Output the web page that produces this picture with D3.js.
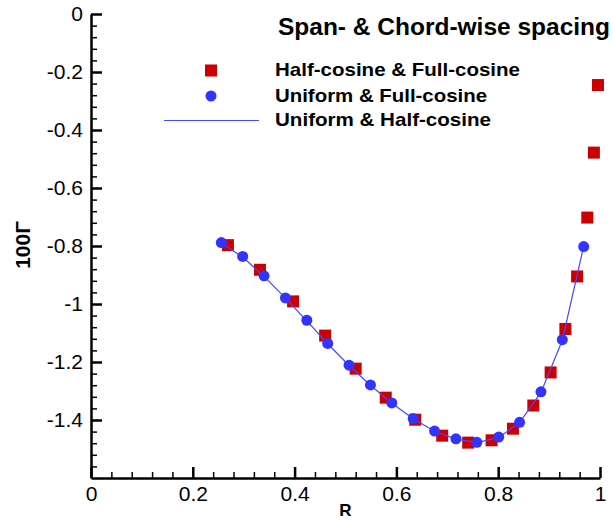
<!DOCTYPE html>
<html>
<head>
<meta charset="utf-8">
<script src="https://cdn.jsdelivr.net/npm/d3@7"></script>
<style>
  body { margin: 0; background: #fff; }
  text { font-family: "Liberation Sans", Arial, sans-serif; fill: #000; }
</style>
</head>
<body>
<div id="chart"></div>
<script>
// Half-cosine & Full-cosine (red squares)
const halfFullR = [0.269, 0.332, 0.397, 0.460, 0.520, 0.579, 0.637, 0.690, 0.741,
  0.787, 0.829, 0.869, 0.903, 0.932, 0.955, 0.975, 0.988, 0.996];
const halfFullG = [-0.797, -0.882, -0.991, -1.109, -1.223, -1.323, -1.399, -1.454, -1.478,
  -1.470, -1.430, -1.350, -1.236, -1.086, -0.905, -0.702, -0.478, -0.245];

// Uniform & Full-cosine (blue circles)
const uniFullR = [0.256, 0.298, 0.340, 0.382, 0.424, 0.465, 0.507, 0.549, 0.591,
  0.633, 0.675, 0.717, 0.758, 0.801, 0.842, 0.884, 0.926, 0.968];
const uniFullG = [-0.788, -0.836, -0.903, -0.979, -1.056, -1.136, -1.211, -1.279, -1.341,
  -1.395, -1.438, -1.465, -1.477, -1.459, -1.408, -1.303, -1.123, -0.802];

// Uniform & Half-cosine (line)
const uniHalfR = [0.256, 0.298, 0.340, 0.382, 0.424, 0.465, 0.507, 0.549, 0.591,
  0.633, 0.675, 0.717, 0.758, 0.801, 0.842, 0.884, 0.926, 0.968];
const uniHalfG = [-0.790, -0.838, -0.905, -0.980, -1.058, -1.137, -1.212, -1.280, -1.342,
  -1.396, -1.439, -1.466, -1.478, -1.460, -1.409, -1.305, -1.125, -0.800];

const xTicks = [0, 0.2, 0.4, 0.6, 0.8, 1];
const yTicks = [0, -0.2, -0.4, -0.6, -0.8, -1, -1.2, -1.4];

const legendTitle = "Span- & Chord-wise spacing";
const legendLabels = ["Half-cosine & Full-cosine", "Uniform & Full-cosine", "Uniform & Half-cosine"];

const width = 613, height = 520;
const margin = { top: 14, right: 13, bottom: 42, left: 91 };
const w = width - margin.left - margin.right;
const h = height - margin.top - margin.bottom;

const svg = d3.select('#chart').append('svg')
  .attr('width', width)
  .attr('height', height);

const g = svg.append('g')
  .attr('transform', `translate(${margin.left}, ${margin.top})`);

const xScale = d3.scaleLinear().domain([0, 1]).range([0, w]);
const yScale = d3.scaleLinear().domain([-1.6, 0]).range([h, 0]);

const fmt = d => String(+d.toFixed(1));
const minorX = d3.range(0, 1.0001, 0.04).map(d => +d.toFixed(2)).filter(d => !xTicks.includes(d));
const minorY = d3.range(0, -1.6001, -0.04).map(d => +d.toFixed(2)).filter(d => !yTicks.includes(d) && d > -1.6);

// minor ticks
g.append('g')
  .attr('transform', `translate(0, ${h})`)
  .call(d3.axisBottom(xScale).tickValues(minorX).tickSize(-6).tickFormat(''))
  .call(a => a.select('.domain').remove())
  .selectAll('line').attr('stroke-width', 1.5);

g.append('g')
  .call(d3.axisLeft(yScale).tickValues(minorY).tickSize(-6).tickFormat(''))
  .call(a => a.select('.domain').remove())
  .selectAll('line').attr('stroke-width', 1.5);

// major axes
const xAxis = g.append('g')
  .attr('transform', `translate(0, ${h})`)
  .call(d3.axisBottom(xScale).tickValues(xTicks).tickSize(-11).tickSizeOuter(0)
    .tickPadding(8).tickFormat(fmt));

const yAxis = g.append('g')
  .call(d3.axisLeft(yScale).tickValues(yTicks).tickSize(-11).tickSizeOuter(0)
    .tickPadding(8).tickFormat(fmt));

[xAxis, yAxis].forEach(a => {
  a.select('.domain').attr('stroke-width', 2.5);
  a.selectAll('.tick line').attr('stroke-width', 2.5);
  a.selectAll('.tick text')
    .style('font-family', '"Liberation Sans", Arial, sans-serif')
    .style('font-size', '21px')
    .attr('fill', '#000');
});

// axis titles
svg.append('text')
  .attr('x', margin.left + w / 2)
  .attr('y', 516)
  .attr('text-anchor', 'middle')
  .style('font-size', '17px')
  .style('font-weight', 'bold')
  .text('R');

svg.append('text')
  .attr('transform', 'translate(30, 245) rotate(-90)')
  .attr('text-anchor', 'middle')
  .style('font-size', '21px')
  .style('font-weight', 'bold')
  .text('100Γ');

// data
const halfFull = halfFullR.map((r, i) => ({ r, v: halfFullG[i] }));
const uniFull = uniFullR.map((r, i) => ({ r, v: uniFullG[i] }));
const uniHalf = uniHalfR.map((r, i) => ({ r, v: uniHalfG[i] }));

const red = '#cc0000', blue = '#3333ff', lineBlue = '#4848ff';
const sq = 12;

g.selectAll('.sq')
  .data(halfFull)
  .enter().append('rect')
    .attr('class', 'sq')
    .attr('x', d => xScale(d.r) - sq / 2)
    .attr('y', d => yScale(d.v) - sq / 2)
    .attr('width', sq)
    .attr('height', sq)
    .attr('fill', red);

g.append('path')
  .datum(uniHalf)
  .attr('fill', 'none')
  .attr('stroke', lineBlue)
  .attr('stroke-width', 1.2)
  .attr('d', d3.line().x(d => xScale(d.r)).y(d => yScale(d.v)));

g.selectAll('.dot')
  .data(uniFull)
  .enter().append('circle')
    .attr('class', 'dot')
    .attr('cx', d => xScale(d.r))
    .attr('cy', d => yScale(d.v))
    .attr('r', 5.5)
    .attr('fill', blue);

// legend
const legend = svg.append('g');
legend.append('text')
  .attr('x', 278).attr('y', 35)
  .attr('textLength', 332).attr('lengthAdjust', 'spacingAndGlyphs')
  .style('font-size', '23px').style('font-weight', 'bold')
  .text(legendTitle);

const entryW = [245, 212, 216];
const entryY = [76, 101.5, 126];
legend.selectAll('.entry')
  .data(legendLabels)
  .enter().append('text')
    .attr('class', 'entry')
    .attr('x', 275)
    .attr('y', (d, i) => entryY[i])
    .attr('textLength', (d, i) => entryW[i])
    .attr('lengthAdjust', 'spacingAndGlyphs')
    .style('font-size', '19px').style('font-weight', 'bold')
    .text(d => d);

legend.append('rect')
  .attr('x', 211 - sq / 2).attr('y', 70.5 - sq / 2)
  .attr('width', sq).attr('height', sq)
  .attr('fill', red);
legend.append('circle')
  .attr('cx', 211).attr('cy', 96).attr('r', 5.5)
  .attr('fill', blue);
legend.append('line')
  .attr('x1', 164).attr('x2', 259)
  .attr('y1', 120.5).attr('y2', 120.5)
  .attr('stroke', lineBlue).attr('stroke-width', 1.2);
</script>
</body>
</html>
